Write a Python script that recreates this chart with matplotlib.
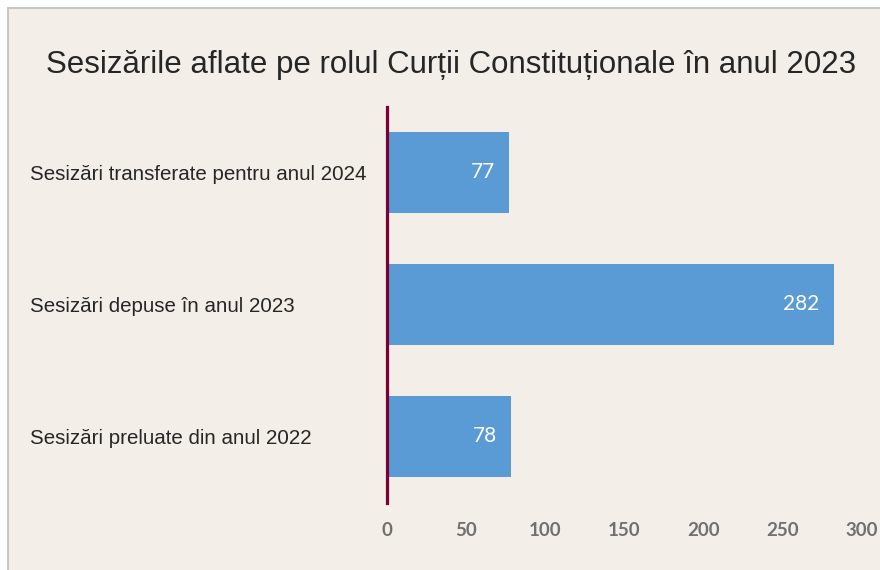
import matplotlib.pyplot as plt
from matplotlib.patches import Rectangle

categorii = ["Sesizări preluate din anul 2022",
             "Sesizări depuse în anul 2023",
             "Sesizări transferate pentru anul 2024"]
valori = [78, 282, 77]
x_ticks = [0, 50, 100, 150, 200, 250, 300]

fundal = "#F3EFE8"

fig = plt.figure(figsize=(8.8, 5.7), dpi=100, facecolor="white")
# chenarul zonei graficului
fig.patches.append(Rectangle((8 / 880, -0.1), 1.0, 1.1 - 8 / 570, transform=fig.transFigure,
                             facecolor=fundal, edgecolor="#BDBDBD", linewidth=1.2, zorder=-10))

ax = fig.add_axes([387 / 880, 1 - 502.5 / 570, 475 / 880, 396 / 570])
ax.set_facecolor("none")
ax.set_zorder(2)

poz = list(range(len(categorii)))
ax.barh(poz, valori, height=0.61, color="#5B9BD5", zorder=2)

for p, v in zip(poz, valori):
    ax.annotate(str(v), (v, p), xytext=(-10, 0), textcoords="offset points",
                ha="right", va="center", color="white", fontsize=15, family="Lato")

ax.set_xlim(0, 300)
ax.set_ylim(-0.5, 2.5)
ax.set_xticks(x_ticks)
ax.set_xticklabels([str(t) for t in x_ticks], fontsize=13.5, fontweight="bold",
                   color="#707070", family="Lato")
ax.set_yticks(poz)
ax.set_yticklabels(categorii, fontsize=14.8, color="#262626", family="Liberation Sans")
for lab in ax.get_yticklabels():
    lab.set_horizontalalignment("left")
ax.tick_params(axis="y", length=0, pad=257)
ax.tick_params(axis="x", length=0, pad=14)

for s in ["top", "right", "bottom"]:
    ax.spines[s].set_visible(False)
ax.spines["left"].set_color("#780032")
ax.spines["left"].set_linewidth(2.3)
ax.spines["left"].set_zorder(3)

fig.text(0.513, 1 - 65 / 570, "Sesizările aflate pe rolul Curții Constituționale în anul 2023",
         ha="center", va="center", fontsize=22.5, color="#262626", family="Liberation Sans")

fig.savefig("out.png", dpi=100, facecolor=fig.get_facecolor())
